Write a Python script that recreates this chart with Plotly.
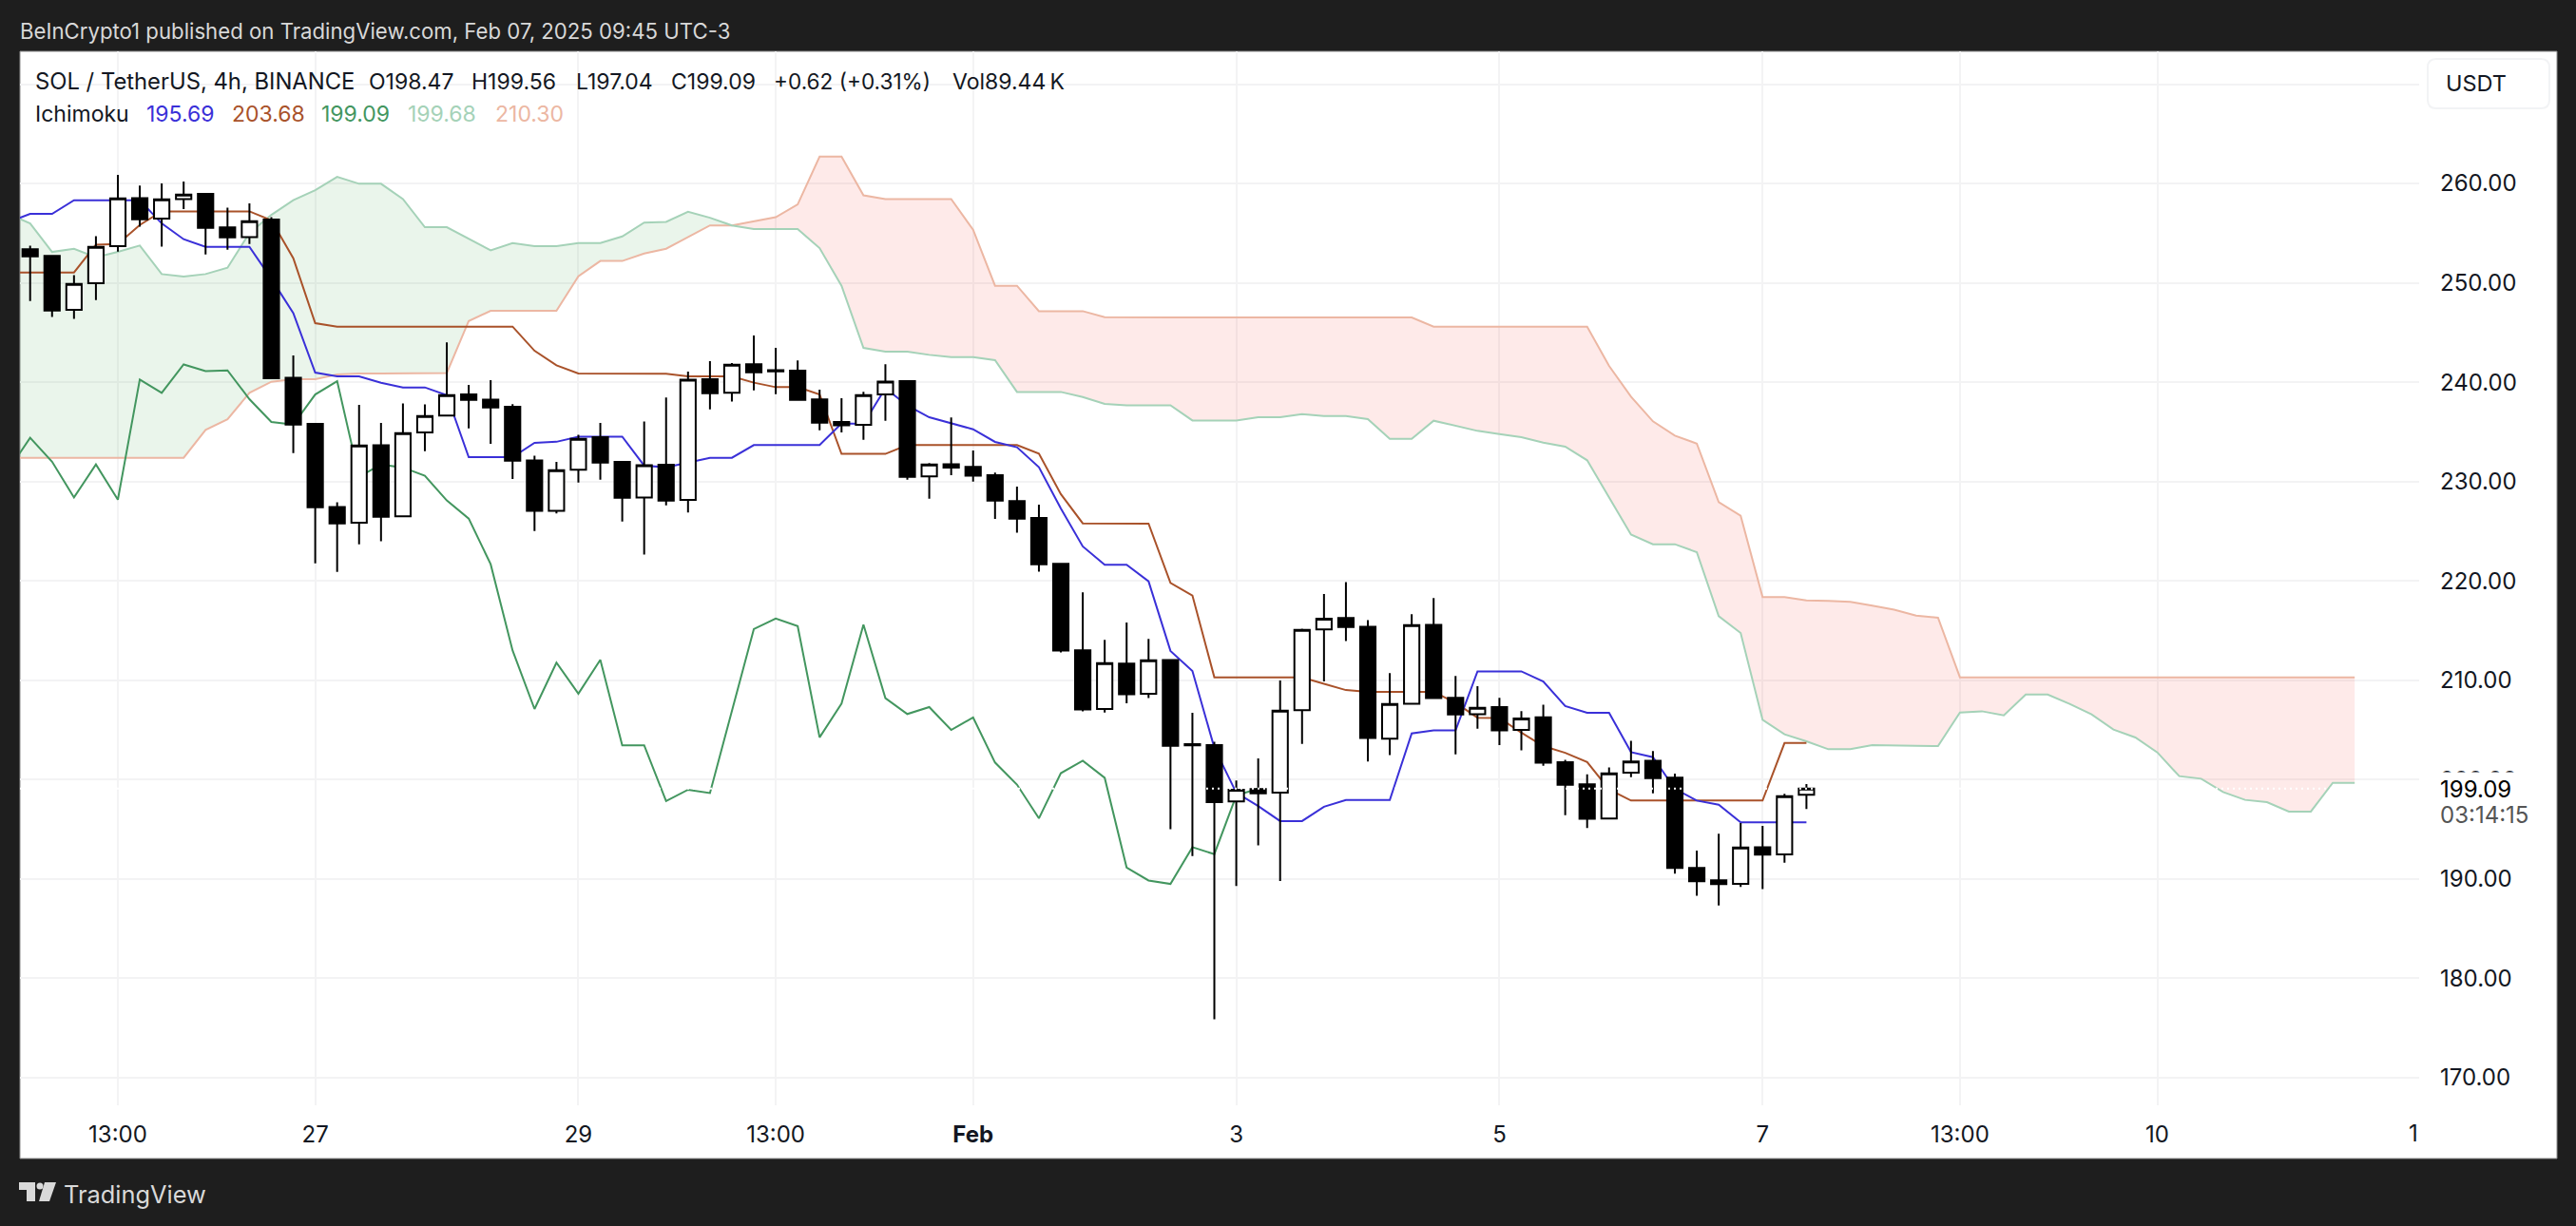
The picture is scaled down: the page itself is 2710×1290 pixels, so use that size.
import pandas as pd
import plotly.graph_objs as go

# =========================
# Data (SOL/USDT 4h, Ichimoku)
# =========================
open_ = [253.37, 252.70, 247.28, 249.95, 253.68, 258.53, 256.46, 258.43, 258.94, 255.57,
         254.61, 256.36, 240.45, 235.80, 227.44, 225.85, 233.66, 226.49, 234.94, 236.63,
         238.76, 238.25, 237.52, 232.13, 227.06, 231.20, 234.46, 231.97, 228.40, 231.69,
         228.15, 240.30, 238.93, 241.80, 241.20, 241.16, 238.26, 235.99, 235.71, 238.77,
         240.11, 230.51, 231.75, 231.47, 230.64, 228.03, 226.33, 221.71, 213.01, 207.11,
         211.67, 208.64, 212.03, 203.58, 203.48, 197.81, 199.05, 198.68, 207.00, 215.12,
         216.26, 215.38, 204.11, 207.64, 215.58, 208.24, 206.59, 207.30, 205.00, 206.26,
         201.76, 199.52, 196.09, 200.69, 201.90, 200.19, 191.10, 189.86, 189.51, 193.20,
         192.47, 198.47]
high = [253.75, 252.80, 250.78, 254.70, 260.86, 259.80, 260.00, 260.19, 259.00, 257.57,
        257.99, 256.62, 242.68, 235.80, 227.92, 237.71, 235.89, 237.87, 237.77, 244.00,
        239.72, 240.20, 237.80, 232.60, 231.97, 234.71, 235.89, 232.07, 236.05, 238.45,
        241.07, 242.12, 241.93, 244.70, 243.46, 242.20, 239.25, 238.39, 239.03, 241.80,
        240.20, 231.85, 236.44, 233.13, 230.90, 229.49, 227.67, 221.71, 218.84, 214.06,
        215.81, 214.16, 212.10, 206.73, 203.81, 199.92, 202.13, 209.98, 215.20, 218.67,
        219.88, 216.05, 210.72, 216.66, 218.27, 210.42, 209.41, 208.24, 206.90, 207.53,
        202.00, 200.52, 201.23, 203.91, 202.87, 200.60, 192.86, 194.55, 195.63, 195.34,
        198.56, 199.56]
low = [248.17, 246.57, 246.38, 248.26, 253.14, 255.66, 253.65, 257.41, 252.85, 253.33,
       253.90, 240.30, 232.87, 221.77, 220.91, 223.68, 224.00, 226.40, 233.06, 236.60,
       235.35, 233.80, 230.25, 225.02, 226.80, 229.90, 230.19, 225.98, 222.66, 227.61,
       226.88, 237.27, 238.04, 239.18, 238.80, 238.20, 235.17, 234.94, 234.21, 236.12,
       230.19, 228.28, 230.64, 230.00, 226.24, 224.84, 220.92, 212.79, 206.86, 206.76,
       207.68, 208.20, 195.00, 192.30, 175.87, 189.29, 193.38, 189.79, 203.60, 209.88,
       213.94, 201.83, 202.47, 207.60, 208.20, 202.54, 205.12, 203.48, 202.94, 201.40,
       196.43, 195.12, 195.99, 200.25, 198.61, 190.53, 188.30, 187.34, 189.19, 188.97,
       191.64, 197.04]
close = [252.66, 247.21, 249.89, 253.62, 258.50, 256.39, 258.40, 258.88, 255.53, 254.58,
         256.20, 240.39, 235.73, 227.41, 225.79, 233.63, 226.46, 234.87, 236.60, 238.70,
         238.22, 237.46, 232.10, 227.06, 231.14, 234.30, 231.91, 228.37, 231.65, 228.09,
         240.24, 238.90, 241.77, 241.00, 241.10, 238.23, 235.93, 235.65, 238.70, 240.05,
         230.48, 231.72, 231.41, 230.58, 228.09, 226.27, 221.68, 212.98, 207.05, 211.73,
         208.58, 212.02, 203.40, 203.44, 197.74, 198.98, 198.61, 206.93, 215.08, 216.19,
         215.35, 204.18, 207.60, 215.55, 208.20, 206.56, 207.23, 204.95, 206.16, 201.70,
         199.48, 196.06, 200.62, 201.83, 200.15, 191.10, 189.76, 189.48, 193.17, 192.44,
         198.34, 199.09]

# the line series start one bar before the first visible candle
tenkan = [256.10, 256.94, 256.94, 258.31, 258.31, 258.31, 258.31, 255.98, 254.39, 253.62,
          253.62, 253.62, 250.40, 246.96, 240.96, 240.58, 240.58, 239.94, 239.47, 239.47,
          238.70, 232.45, 232.45, 232.45, 233.89, 234.00, 234.52, 234.52, 234.52, 231.60,
          231.44, 231.90, 232.39, 232.39, 233.67, 233.67, 233.67, 233.67, 235.84, 235.80,
          239.40, 237.65, 236.47, 235.90, 235.26, 233.99, 233.45, 231.44, 227.29, 223.47,
          221.62, 221.62, 219.96, 212.95, 210.94, 203.20, 198.68, 197.34, 195.83, 195.83,
          197.27, 197.94, 197.94, 197.94, 204.65, 204.95, 204.95, 210.89, 210.89, 210.89,
          209.88, 207.40, 206.73, 206.73, 202.77, 202.26, 199.07, 197.89, 197.48, 195.69,
          195.69, 195.69, 195.69]
kijun = [251.04, 251.04, 251.04, 251.04, 253.84, 253.91, 255.82, 257.19, 257.19, 257.19,
         257.19, 257.19, 256.30, 252.47, 245.94, 245.59, 245.59, 245.59, 245.59, 245.59,
         245.59, 245.59, 245.59, 245.59, 243.16, 241.70, 240.87, 240.87, 240.87, 240.87,
         240.84, 240.59, 240.59, 240.59, 239.95, 239.50, 239.50, 238.77, 232.78, 232.78,
         232.78, 233.67, 233.67, 233.67, 233.67, 233.67, 233.67, 232.81, 228.73, 225.79,
         225.79, 225.79, 225.76, 219.80, 218.53, 210.30, 210.28, 210.28, 210.28, 210.28,
         209.65, 209.01, 208.84, 208.84, 208.84, 208.84, 207.74, 206.23, 206.20, 204.72,
         203.37, 202.70, 201.76, 199.01, 197.89, 197.89, 197.89, 197.89, 197.89, 197.89,
         197.89, 203.68, 203.68]
chikou = [231.14, 234.40, 232.00, 228.40, 231.72, 228.18, 240.26, 238.92, 241.79, 241.12,
          241.19, 238.29, 235.99, 235.73, 238.76, 240.10, 230.48, 231.72, 231.41, 230.58,
          228.09, 226.27, 221.68, 213.00, 207.11, 211.77, 208.65, 212.05, 203.45, 203.45,
          197.85, 198.98, 198.65, 206.95, 215.15, 216.22, 215.45, 204.25, 207.65, 215.60,
          208.20, 206.60, 207.30, 205.00, 206.25, 201.72, 199.50, 196.10, 200.65, 201.90,
          200.18, 191.15, 189.85, 189.50, 193.20, 192.50, 198.40, 199.09]
senkou_a = [256.94, 255.98, 253.11, 253.43, 252.57, 253.11, 253.75, 250.88, 250.62, 250.88,
            251.52, 255.02, 256.84, 258.31, 259.33, 260.67, 259.97, 259.97, 258.43, 255.60,
            255.60, 254.40, 253.27, 254.00, 253.68, 253.68, 254.00, 254.00, 254.67, 256.07,
            256.14, 257.16, 256.55, 255.78, 255.41, 255.41, 255.41, 253.49, 249.70, 243.45,
            243.07, 243.07, 242.75, 242.53, 242.53, 242.21, 239.02, 239.02, 239.02, 238.51,
            237.81, 237.68, 237.68, 237.68, 236.15, 236.15, 236.15, 236.47, 236.47, 236.79,
            236.60, 236.60, 236.28, 234.30, 234.30, 236.12, 235.58, 235.10, 234.78, 234.46,
            233.92, 233.51, 232.14, 228.40, 224.67, 223.69, 223.69, 222.89, 216.45, 214.76,
            206.02, 204.56, 203.86, 203.06, 203.06, 203.47, 203.47, 203.41, 203.38, 206.76,
            206.88, 206.47, 208.57, 208.57, 207.62, 206.57, 205.04, 204.24, 202.74, 200.35,
            200.09, 198.75, 197.96, 197.73, 196.78, 196.78, 199.68, 199.68]
senkou_b = [232.39, 232.39, 232.39, 232.39, 232.39, 232.39, 232.39, 232.39, 232.39, 235.20,
            236.27, 238.92, 240.04, 240.29, 240.29, 240.77, 240.87, 240.87, 240.87, 240.90,
            240.93, 246.16, 247.18, 247.18, 247.18, 247.18, 250.65, 252.20, 252.20, 252.95,
            253.43, 254.61, 255.78, 255.78, 256.20, 256.60, 257.89, 262.71, 262.71, 258.80,
            258.43, 258.43, 258.43, 258.43, 255.34, 249.70, 249.70, 247.15, 247.15, 247.15,
            246.54, 246.51, 246.51, 246.51, 246.51, 246.51, 246.51, 246.51, 246.51, 246.51,
            246.51, 246.51, 246.51, 246.51, 246.51, 245.59, 245.59, 245.59, 245.59, 245.59,
            245.59, 245.59, 245.59, 241.64, 238.54, 236.06, 234.62, 233.82, 227.93, 226.56,
            218.36, 218.36, 218.04, 218.00, 217.90, 217.50, 217.10, 216.50, 216.30, 210.30,
            210.30, 210.30, 210.30, 210.30, 210.30, 210.30, 210.30, 210.30, 210.30, 210.30,
            210.30, 210.30, 210.30, 210.30, 210.30, 210.30, 210.30, 210.30]

last_price = 199.09

price_ticks = [170, 180, 190, 200, 210, 220, 230, 240, 250, 260, 270]
price_labels = ["170.00", "180.00", "190.00", "200.00", "210.00", "220.00",
                "230.00", "240.00", "250.00", "260.00", ""]
time_ticks = ["2025-01-25 13:00", "2025-01-27 01:00", "2025-01-29 01:00", "2025-01-30 13:00",
              "2025-02-01 01:00", "2025-02-03 01:00", "2025-02-05 01:00", "2025-02-07 01:00",
              "2025-02-08 13:00", "2025-02-10 01:00"]
time_labels = ["13:00", "27", "29", "13:00", "<b>Feb</b>", "3", "5", "7", "13:00", "10"]

# =========================
# Canvas
# =========================
W, H = 2710, 1290
FONT = "Inter"
FRAME = "#1e1e1e"
GRID = "#f3f3f4"
TEXT = "#131722"

line_times = pd.date_range("2025-01-24 17:00", periods=len(senkou_a), freq="4h")
candle_times = line_times[1:len(open_) + 1]

BAR = pd.Timedelta(hours=4)
x_range = [candle_times[0] - 0.464 * BAR, candle_times[0] + 108.94 * BAR]
y_range = [167.22, 273.3]


def px(x):
    return x / W


def py(y):
    return 1 - y / H


def label(text, x, y, size=23, color=TEXT, anchor="left", **kw):
    fig.add_annotation(text=text, xref="paper", yref="paper", x=px(x), y=py(y),
                       xanchor=anchor, yanchor="middle", showarrow=False,
                       font=dict(family=FONT, size=size, color=color),
                       borderpad=0, **kw)


fig = go.Figure()

# =========================
# Cloud (split where span A crosses span B)
# =========================
cross = 33
fills = [
    (line_times[:cross + 1], senkou_b[:cross + 1], senkou_a[:cross + 1], "rgba(67,160,71,0.11)"),
    (line_times[cross:], senkou_b[cross:], senkou_a[cross:], "rgba(244,67,54,0.11)"),
]
for xs, lower, upper, color in fills:
    fig.add_trace(go.Scatter(x=xs, y=lower, mode="lines", line=dict(width=0), hoverinfo="skip"))
    fig.add_trace(go.Scatter(x=xs, y=upper, mode="lines", line=dict(width=0),
                             fill="tonexty", fillcolor=color, hoverinfo="skip"))

# =========================
# Ichimoku lines
# =========================
lines = [
    ("Senkou B", senkou_b, "#ecb7a3"),
    ("Senkou A", senkou_a, "#a5d2b8"),
    ("Chikou", chikou, "#43965f"),
    ("Kijun", kijun, "#a9522a"),
    ("Tenkan", tenkan, "#3a30d8"),
]
for name, values, color in lines:
    fig.add_trace(go.Scatter(x=line_times[:len(values)], y=values, mode="lines", name=name,
                             line=dict(color=color, width=2)))

# =========================
# Candles go on an overlaid pair of axes so that they sit above the lines
# =========================
fig.add_trace(go.Candlestick(
    x=candle_times, open=open_, high=high, low=low, close=close,
    xaxis="x2", yaxis="y2", whiskerwidth=0,
    increasing=dict(line=dict(color="#000000", width=2), fillcolor="#ffffff"),
    decreasing=dict(line=dict(color="#000000", width=2), fillcolor="#000000"),
))

# price line, only shows as white dots on the dark marks
fig.add_trace(go.Scatter(x=x_range, y=[last_price, last_price], mode="lines",
                         xaxis="x2", yaxis="y2",
                         line=dict(color="#ffffff", width=2, dash="2px,4px"), hoverinfo="skip"))

# =========================
# Layout
# =========================
fig.update_layout(
    width=W, height=H, autosize=False,
    margin=dict(l=0, r=0, t=0, b=0),
    showlegend=False,
    paper_bgcolor=FRAME,
    plot_bgcolor="#ffffff",
    font=dict(family=FONT, color=TEXT),
    boxgap=0.3,
    boxgroupgap=0,
    xaxis=dict(
        type="date", domain=[px(21), px(2545)], range=x_range, anchor="y",
        tickmode="array", tickvals=time_ticks, ticktext=time_labels, ticks="",
        tickfont=dict(family=FONT, size=24, color=TEXT), ticklabelstandoff=14,
        showgrid=True, gridcolor=GRID, gridwidth=2, zeroline=False, showline=False,
        rangeslider=dict(visible=False),
    ),
    yaxis=dict(
        domain=[py(1163), py(54)], range=y_range, side="right", anchor="x",
        tickmode="array", tickvals=price_ticks, ticktext=price_labels, ticks="",
        tickfont=dict(family=FONT, size=24, color=TEXT), ticklabelstandoff=21,
        showgrid=True, gridcolor=GRID, gridwidth=2, zeroline=False, showline=False,
    ),
    xaxis2=dict(type="date", overlaying="x", matches="x", anchor="y2", visible=False,
                rangeslider=dict(visible=False)),
    yaxis2=dict(overlaying="y", matches="y", anchor="x2", side="right", visible=False),
    hovermode=False,
)

# white panel behind plot, price scale and time scale
fig.add_shape(type="rect", xref="paper", yref="paper", layer="below",
              x0=px(21), x1=px(2690), y0=py(1219), y1=py(54),
              fillcolor="#ffffff", line=dict(color="#8c8c8c", width=1))

# currency button
x0, x1, y0, y1, r = px(2554), px(2682), py(114), py(62), 9
rx, ry = r / W, r / H
fig.add_shape(type="path", xref="paper", yref="paper",
              path=f"M {x0 + rx} {y1} L {x1 - rx} {y1} Q {x1} {y1} {x1} {y1 - ry} "
                   f"L {x1} {y0 + ry} Q {x1} {y0} {x1 - rx} {y0} L {x0 + rx} {y0} "
                   f"Q {x0} {y0} {x0} {y0 + ry} L {x0} {y1 - ry} Q {x0} {y1} {x0 + rx} {y1} Z",
              fillcolor="#ffffff", line=dict(color="#f2f3f5", width=2))
label("USDT", 2572, 88, size=23.5)

# =========================
# Header and legend texts
# =========================
label("BeInCrypto1 published on TradingView.com, Feb 07, 2025 09:45 UTC-3", 20, 32,
      size=22.2, color="#d8d8d8")

label("SOL / TetherUS, 4h, BINANCE", 36, 86, size=23.8)
label("O198.47", 387, 86)
label("H199.56", 495, 86)
label("L197.04", 605, 86)
label("C199.09", 705, 86)
label("+0.62 (+0.31%)", 813, 86, size=22.6)
label("Vol89.44\u2009K", 1001, 86)

label("Ichimoku", 36, 120)
label("195.69", 153, 120, color="#3a30d8")
label("203.68", 243, 120, color="#a9522a")
label("199.09", 337, 120, color="#43965f")
label("199.68", 428, 120, color="#a5d2b8")
label("210.30", 520, 120, color="#ecb7a3")

# last price label hides most of the 200.00 tick label
label("199.09", 2566, 830, size=24, color="#000000", bgcolor="#ffffff",
      width=92, height=34, align="left")
label("03:14:15", 2566, 857, size=24, color="#555555")

# the next date label is cut off by the price scale
label("1", 2539, 1192, size=24, anchor="center")

# =========================
# Footer logo
# =========================
LOGO = "#d9d9d9"
fig.add_shape(type="path", xref="paper", yref="paper", line=dict(width=0), fillcolor=LOGO,
              path=f"M {px(20)} {py(1244)} L {px(37)} {py(1244)} L {px(37)} {py(1264)} "
                   f"L {px(28)} {py(1264)} L {px(28)} {py(1252)} L {px(20)} {py(1252)} Z")
fig.add_shape(type="circle", xref="paper", yref="paper", line=dict(width=0), fillcolor=LOGO,
              x0=px(38.5), x1=px(45.5), y0=py(1251.5), y1=py(1244.5))
fig.add_shape(type="path", xref="paper", yref="paper", line=dict(width=0), fillcolor=LOGO,
              path=f"M {px(47)} {py(1244)} L {px(59)} {py(1244)} L {px(52)} {py(1264)} "
                   f"L {px(41)} {py(1264)} Z")
label("TradingView", 66, 1256, size=25.4, color="#d9d9d9")

fig.write_html("out.html", config={"displayModeBar": False},
               post_script="document.body.style.margin='0';")
